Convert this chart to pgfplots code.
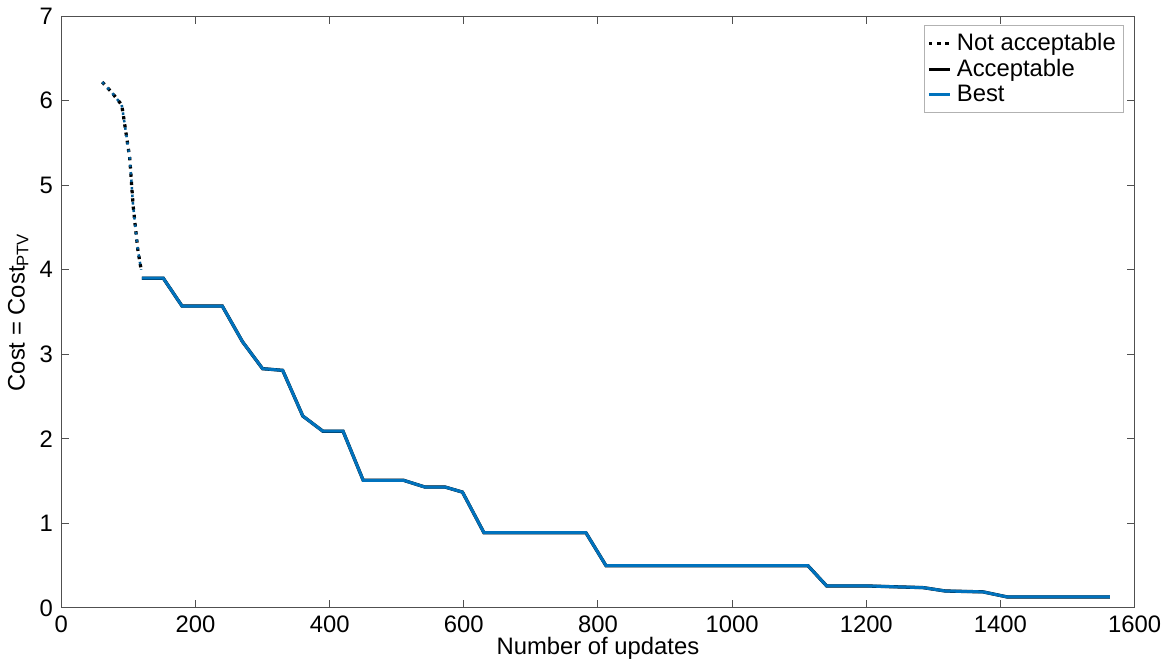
\documentclass[border=0pt]{standalone}
\usepackage{fontspec}
\setmainfont{Liberation Sans}
\usepackage{pgfplots}
\pgfplotsset{compat=1.18}
\definecolor{mblue}{RGB}{0,114,189}
\definecolor{axgray}{RGB}{80,80,80}
\begin{document}
\fontsize{9.5}{11}\selectfont
\begin{tikzpicture}
\begin{axis}[
  width=428pt, height=236pt, scale only axis,
  xmin=0, xmax=1600, ymin=0, ymax=7,
  xtick={0,200,...,1600}, ytick={0,1,...,7},
  tick align=inside, major tick length=3pt,
  axis line style={axgray, line width=0.4pt},
  tick style={axgray, line width=0.4pt},
  /pgf/number format/assume math mode=true,
  /pgf/number format/1000 sep={},
  tick label style={font=\fontsize{9.5}{11}\selectfont},
  label style={font=\fontsize{9.5}{11}\selectfont},
  xlabel={Number of updates},
  ylabel={Cost = Cost\textsubscript{PTV}},
  xlabel style={yshift=5pt},
  ylabel style={yshift=-2pt},
  legend style={at={(0.99,0.985)}, anchor=north east, draw=gray!60,
    font=\fontsize{9.5}{10}\selectfont, inner sep=1pt, row sep=-2pt},
  legend cell align=left,
  legend image post style={xscale=0.5},
]
% not acceptable (dotted)
\addplot[black, dotted, line width=1.3pt] coordinates {
  (61,6.22) (75,6.10) (90,5.95) (93,5.80) (102,5.32) (107,4.76) (114,4.24) (119,4.00)
};
% acceptable
\addplot[black, line width=1.3pt] coordinates {
  (120,3.90) (152,3.90) (180,3.57) (240,3.57) (270,3.15) (300,2.83) (330,2.81)
  (360,2.27) (390,2.09) (420,2.09) (450,1.51) (510,1.51) (542,1.43) (572,1.43)
  (598,1.37) (630,0.89) (782,0.89) (812,0.50) (1113,0.50) (1141,0.26) (1200,0.26)
  (1285,0.24) (1318,0.20) (1374,0.19) (1410,0.13) (1563,0.13)
};
% best
\addplot[mblue, line width=1.2pt] coordinates {
  (120,3.90) (152,3.90) (180,3.57) (240,3.57) (270,3.15) (300,2.83) (330,2.81)
  (360,2.27) (390,2.09) (420,2.09) (450,1.51) (510,1.51) (542,1.43) (572,1.43)
  (598,1.37) (630,0.89) (782,0.89) (812,0.50) (1113,0.50) (1141,0.26) (1200,0.26)
  (1285,0.24) (1318,0.20) (1374,0.19) (1410,0.13) (1563,0.13)
};
\addplot[mblue!80!black, dotted, line width=1pt, forget plot] coordinates {
  (61,6.22) (75,6.10) (90,5.95) (93,5.80) (102,5.32) (107,4.76) (114,4.24) (119,4.00)
};
\legend{Not acceptable, Acceptable, Best}
\end{axis}
\end{tikzpicture}
\end{document}
